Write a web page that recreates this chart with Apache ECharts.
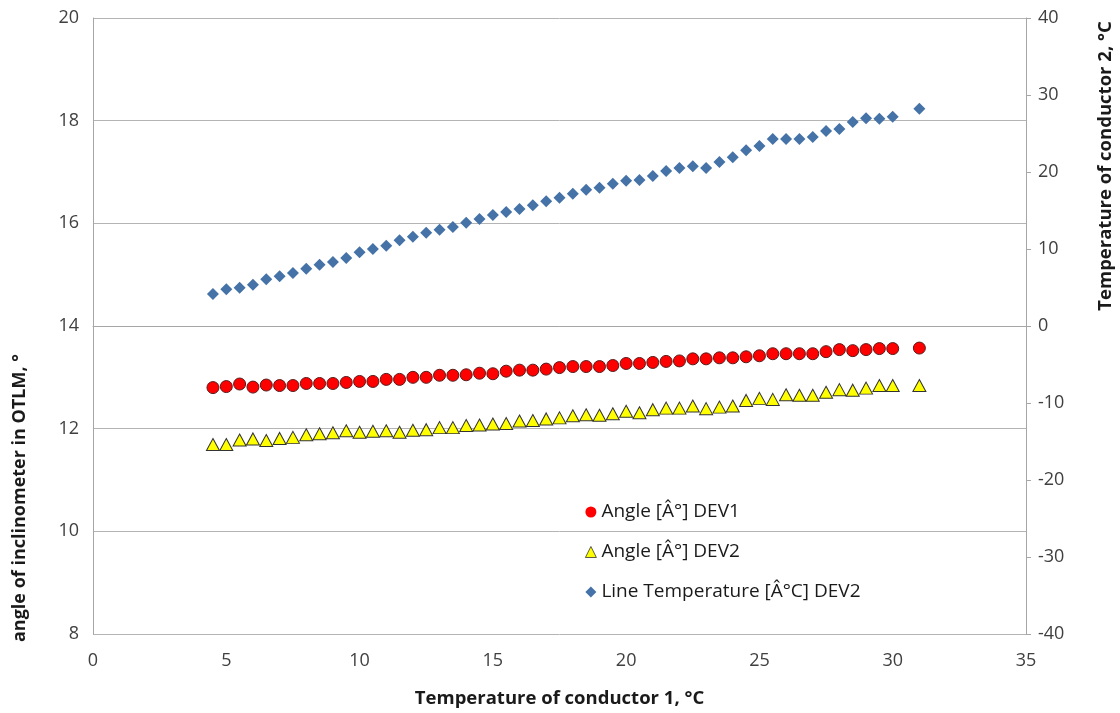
<!DOCTYPE html>
<html>
<head>
<meta charset="utf-8">
<script src="https://cdn.jsdelivr.net/npm/echarts@6/dist/echarts.min.js"></script>
<style>
  html, body { margin: 0; padding: 0; background: #fff; }
  #chart { width: 1120px; height: 713px; }
</style>
</head>
<body>
<div id="chart"></div>
<script>
// temperature of conductor 1 (x)
const conductor1 = [4.5, 5, 5.5, 6, 6.5, 7, 7.5, 8, 8.5, 9, 9.5, 10, 10.5, 11, 11.5, 12, 12.5, 13, 13.5, 14,
  14.5, 15, 15.5, 16, 16.5, 17, 17.5, 18, 18.5, 19, 19.5, 20, 20.5, 21, 21.5, 22, 22.5, 23, 23.5, 24,
  24.5, 25, 25.5, 26, 26.5, 27, 27.5, 28, 28.5, 29, 29.5, 30, 31]

const angleDev1 = [12.80, 12.82, 12.87, 12.81, 12.85, 12.84, 12.84, 12.88, 12.88, 12.88, 12.90, 12.92, 12.92, 12.96, 12.96, 13.00, 13.00, 13.04, 13.04, 13.05,
  13.08, 13.07, 13.12, 13.14, 13.14, 13.16, 13.19, 13.21, 13.21, 13.21, 13.23, 13.27, 13.27, 13.29, 13.31, 13.32, 13.36, 13.36, 13.38, 13.38,
  13.40, 13.42, 13.46, 13.46, 13.46, 13.46, 13.50, 13.54, 13.52, 13.54, 13.56, 13.56, 13.57]

const angleDev2 = [11.69, 11.69, 11.78, 11.80, 11.77, 11.81, 11.83, 11.88, 11.90, 11.92, 11.96, 11.93, 11.95, 11.96, 11.93, 11.97, 11.98, 12.02, 12.02, 12.06,
  12.07, 12.09, 12.10, 12.15, 12.16, 12.19, 12.21, 12.25, 12.27, 12.26, 12.29, 12.34, 12.31, 12.37, 12.40, 12.40, 12.44, 12.39, 12.42, 12.44,
  12.55, 12.59, 12.57, 12.66, 12.65, 12.65, 12.71, 12.76, 12.75, 12.79, 12.84, 12.84, 12.84]

const lineTempDev2 = [4.16, 4.76, 4.98, 5.37, 6.06, 6.45, 6.88, 7.44, 7.96, 8.31, 8.83, 9.57, 10.0, 10.43, 11.13, 11.6, 12.12, 12.51, 12.86, 13.42,
  13.9, 14.42, 14.81, 15.19, 15.67, 16.19, 16.66, 17.19, 17.7, 17.96, 18.48, 18.87, 18.96, 19.48, 20.13, 20.52, 20.74, 20.52, 21.3, 21.91,
  22.82, 23.38, 24.29, 24.29, 24.29, 24.55, 25.32, 25.58, 26.49, 26.97, 26.92, 27.18, 28.22]

const seriesNames = ['Angle [Â°] DEV1', 'Angle [Â°] DEV2', 'Line Temperature [Â°C] DEV2']

const font = '"Open Sans", "Liberation Sans", sans-serif'
const textColor = '#404040'
const axisGray = '#a6a6a6'

const pairs = (ys) => conductor1.map((x, i) => [x, ys[i]])

const chart = echarts.init(document.getElementById('chart'), null, { renderer: 'canvas' })
chart.setOption({
  animation: false,
  textStyle: { fontFamily: font },
  grid: { left: 93, right: 94, top: 18, bottom: 79, outerBoundsMode: 'none' },
  legend: {
    orient: 'vertical',
    left: 580,
    top: 494,
    itemGap: 14,
    itemWidth: 11,
    itemHeight: 11,
    textStyle: { fontFamily: font, fontSize: 19, lineHeight: 26, color: '#1a1a1a' },
    itemStyle: { borderWidth: 0.8 },
    data: [
      { name: seriesNames[0], icon: 'circle', itemStyle: { borderWidth: 0 } },
      { name: seriesNames[1], icon: 'triangle' },
      { name: seriesNames[2], icon: 'diamond' },
    ],
  },
  xAxis: {
    type: 'value', min: 0, max: 35, interval: 5,
    name: 'Temperature of conductor 1, °C',
    nameLocation: 'middle', nameGap: 55,
    nameTextStyle: { fontFamily: font, fontSize: 18.5, fontWeight: 'bold', color: '#1a1a1a' },
    axisLine: { show: true, lineStyle: { color: axisGray } },
    axisTick: { show: false },
    splitLine: { show: false },
    axisLabel: { margin: 18, fontSize: 18, color: textColor },
  },
  yAxis: [
    {
      type: 'value', min: 8, max: 20, interval: 2,
      axisLine: { show: true, lineStyle: { color: axisGray } },
      axisTick: { show: false },
      splitLine: { show: true, lineStyle: { color: '#b4b4b4' } },
      axisLabel: { margin: 14, fontSize: 18, color: textColor },
    },
    {
      type: 'value', min: -40, max: 40, interval: 10, position: 'right',
      axisLine: { show: true, lineStyle: { color: axisGray } },
      axisTick: { show: true, length: 5, lineStyle: { color: axisGray } },
      splitLine: { show: false },
      axisLabel: { margin: 12, fontSize: 18, color: textColor },
    },
  ],
  graphic: [
    {
      type: 'text', rotation: Math.PI / 2,
      x: 20, y: 498,
      style: {
        text: 'angle of inclinometer in OTLM, °',
        font: 'bold 18px ' + font, fill: '#1a1a1a',
        textAlign: 'center', textVerticalAlign: 'middle',
      },
    },
    {
      type: 'text', rotation: Math.PI / 2,
      x: 1106, y: 166,
      style: {
        text: 'Temperature of conductor 2, °C',
        font: 'bold 18.5px ' + font, fill: '#1a1a1a',
        textAlign: 'center', textVerticalAlign: 'middle',
      },
    },
  ],
  series: [
    {
      name: seriesNames[0], type: 'scatter', yAxisIndex: 0,
      symbol: 'circle', symbolSize: 12,
      itemStyle: { color: '#ff0000', borderColor: '#5a1a1a', borderWidth: 1, opacity: 1 },
      data: pairs(angleDev1),
    },
    {
      name: seriesNames[1], type: 'scatter', yAxisIndex: 0,
      symbol: 'triangle', symbolSize: [13, 12],
      itemStyle: { color: '#ffff00', borderColor: '#333', borderWidth: 1, opacity: 1 },
      data: pairs(angleDev2),
    },
    {
      name: seriesNames[2], type: 'scatter', yAxisIndex: 1,
      symbol: 'diamond', symbolSize: 12,
      itemStyle: { color: '#4572a7', opacity: 1 },
      data: pairs(lineTempDev2),
    },
  ],
})
</script>
</body>
</html>
